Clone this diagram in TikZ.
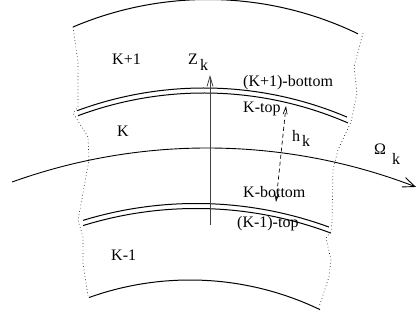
\documentclass[tikz,border=0pt]{standalone}
\usepackage{fontspec}
\setmainfont{Liberation Serif}
\usetikzlibrary{arrows.meta}
\begin{document}
\begin{tikzpicture}[x=1pt,y=-1pt,
  layer/.style={line width=1pt},
  bound/.style={line width=0.7pt, black!85, dash pattern=on 0.7pt off 2.6pt},
  lab/.style={font=\fontsize{16}{18}\selectfont, inner sep=0pt, anchor=base west},
  zarrow/.style={line width=0.8pt, black!75, -{Straight Barb[length=10pt,width=6pt]}},
  harrow/.style={line width=0.7pt, dash pattern=on 4pt off 3pt, {Straight Barb[length=7pt,width=4pt]}-{Straight Barb[length=7pt,width=4pt]}},
  oarrow/.style={line width=0.9pt, -{Straight Barb[length=12pt,width=10pt]}},
]
\useasboundingbox (0,0) rectangle (417,320);
% top arc
\draw[layer] plot[domain=73:358, samples=80] (\x, {-0.5+345*(1-sqrt(1-((\x-208)/345)^2))});
% upper double line
\draw[layer] plot[domain=77:347, samples=80] (\x, {88+366*(1-sqrt(1-((\x-204)/366)^2))});
\draw[layer] plot[domain=78:348, samples=80] (\x, {93+361*(1-sqrt(1-((\x-204)/361)^2))});
% lower double line
\draw[layer] plot[domain=83:329, samples=80] (\x, {203.5+387*(1-sqrt(1-((\x-196)/387)^2))});
\draw[layer] plot[domain=83:331, samples=80] (\x, {208.5+382*(1-sqrt(1-((\x-196)/382)^2))});
% bottom arc
\draw[layer] plot[domain=89:320, samples=80] (\x, {280+300*(1-sqrt(1-((\x-190)/300)^2))});
% Omega arc
\draw[oarrow] plot[domain=12:416, samples=100] (\x, {148+578*(1-sqrt(1-((\x-207.4)/578)^2))});
% dotted side boundaries
\draw[bound] (73,27) -- (78,62) -- (78,107) -- (73,113) -- (88,137) -- (89,160)
  -- (78,220) -- (83,237) -- (83,263) -- (88,296);
\draw[bound] (363,33) -- (354,67) -- (357,93) -- (351,122) -- (338,150) -- (333,170)
  -- (332,222) -- (331,231) -- (326,238) -- (331,260) -- (329,277) -- (319,307);
% Z_k axis
\coordinate (zb) at (210,225);
\coordinate (zt) at (210,75);
\draw[zarrow] (zb) -- (zt);
% h_k thickness
\coordinate (hb) at (276,202);
\coordinate (ht) at (286,106);
\draw[harrow] (hb) -- (ht);
% labels
\node[lab] (kp1) at (112,65) {K+1};
\node[lab] (k) at (117,137) {K};
\node[lab] (km1) at (111,260) {K-1};
\node[lab] (z) at (188,65) {Z};
\node[lab] (zk) at (200,71) {k};
\node[lab] (kp1b) at (243,86.5) {(K+1)-bottom};
\node[lab] (ktop) at (243,113) {K-top};
\node[lab] (h) at (292,142) {h};
\node[lab] (hk) at (302,147) {k};
\node[lab] (om) at (374,155) {Ω};
\node[lab] (omk) at (392,165) {k};
\node[lab] (kbot) at (243,198) {K-bottom};
\node[lab] (km1t) at (237,227.5) {(K-1)-top};
\end{tikzpicture}
\end{document}
